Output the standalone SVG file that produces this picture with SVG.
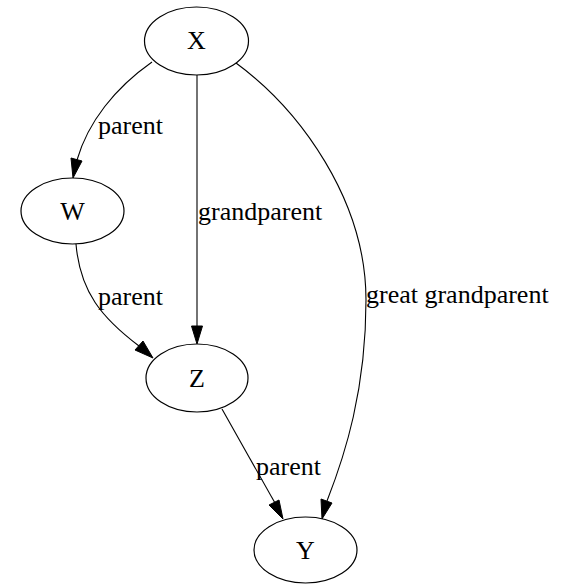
<svg xmlns="http://www.w3.org/2000/svg" width="566" height="585" viewBox="0 0 566 585">
  <style>
    .node ellipse { fill: none; stroke: #000; stroke-width: 1.2; }
    .node text, .edge-label { font-family: "Liberation Serif", "Times New Roman", serif; font-size: 26px; fill: #000; }
    .node text { text-anchor: middle; }
    .edge path { fill: none; stroke: #000; stroke-width: 1.1; }
    .edge polygon { fill: #000; stroke: #000; stroke-width: 1; }
  </style>
  <rect width="566" height="585" fill="#fff"/>

  <!-- connectors -->
  <g id="edges">
    <g class="edge" id="X-W">
      <path d="M152,62 C115,88 88,122 77,160"/>
      <polygon points="71,158 82,161 73,178"/>
      <text class="edge-label" x="98" y="134">parent</text>
    </g>
    <g class="edge" id="X-Z">
      <path d="M197,75 L197,326"/>
      <polygon points="191.5,326 202.5,326 197,344"/>
      <text class="edge-label" x="198" y="220">grandparent</text>
    </g>
    <g class="edge" id="X-Y">
      <path d="M236,63 C300,110 366,200 366,300 C366,390 345,455 327,501"/>
      <polygon points="321,499 332,503 322,519"/>
      <text class="edge-label" x="366" y="303">great grandparent</text>
    </g>
    <g class="edge" id="W-Z">
      <path d="M76,244 C80,292 102,318 139,346"/>
      <polygon points="135,350 143,341 153,358"/>
      <text class="edge-label" x="98" y="305">parent</text>
    </g>
    <g class="edge" id="Z-Y">
      <path d="M222,409 L275,503"/>
      <polygon points="269,505 279,500 283,519"/>
      <text class="edge-label" x="256" y="475">parent</text>
    </g>
  </g>

  <!-- nodes -->
  <g class="node" id="X">
    <ellipse cx="196.5" cy="41" rx="52" ry="34"/>
    <text x="196.5" y="49">X</text>
  </g>
  <g class="node" id="W">
    <ellipse cx="72.5" cy="211" rx="51.5" ry="33"/>
    <text x="72.5" y="220">W</text>
  </g>
  <g class="node" id="Z">
    <ellipse cx="197" cy="378" rx="51" ry="34"/>
    <text x="197" y="387">Z</text>
  </g>
  <g class="node" id="Y">
    <ellipse cx="305.5" cy="550" rx="51.5" ry="33"/>
    <text x="305.5" y="559">Y</text>
  </g>
</svg>
